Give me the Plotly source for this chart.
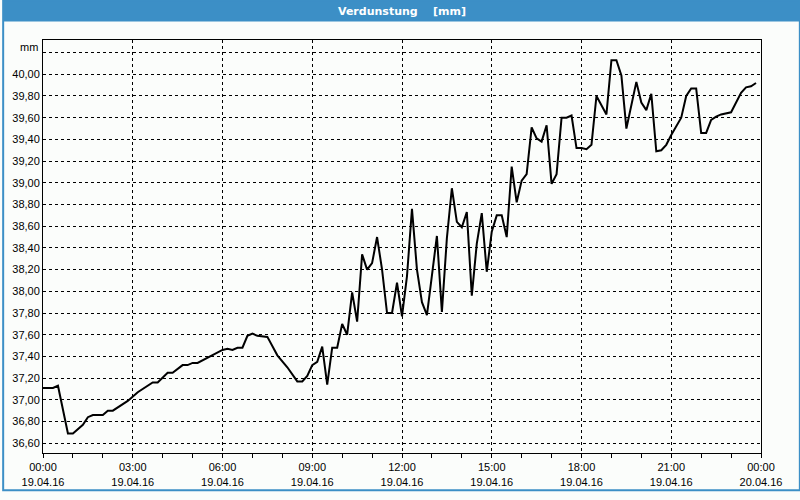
import plotly.graph_objects as go

times = ["00:00","00:20","00:30","00:50","01:00","01:20","01:30","01:40","02:00","02:10",
         "02:20","02:50","03:10","03:20","03:40","03:50","04:10","04:20","04:40","04:50",
         "05:00","05:10","05:30","05:40","06:00","06:10","06:20","06:30","06:40","06:50",
         "07:00","07:10","07:30","07:50","08:10","08:30","08:40","08:50","09:00","09:10",
         "09:20","09:30","09:40","09:50","10:00","10:10","10:20","10:30","10:40","10:50",
         "11:00","11:10","11:20","11:30","11:40","11:50","12:00","12:10","12:20","12:30",
         "12:40","12:50","13:10","13:20","13:30","13:40","13:50","14:00","14:10","14:20",
         "14:30","14:40","14:50","15:00","15:10","15:20","15:30","15:40","15:50","16:00",
         "16:10","16:20","16:30","16:40","16:50","17:00","17:10","17:20","17:30","17:40",
         "17:50","18:00","18:10","18:20","18:30","18:50","19:00","19:10","19:20","19:30",
         "19:50","20:00","20:10","20:20","20:30","20:40","20:50","21:00","21:20","21:30",
         "21:40","21:50","22:00","22:10","22:20","22:30","22:40","23:00","23:20","23:30",
         "23:40","23:50"]
values = [37.11,37.11,37.13,36.69,36.69,36.77,36.84,36.86,36.86,36.90,
          36.90,36.99,37.07,37.10,37.16,37.16,37.25,37.25,37.32,37.32,
          37.34,37.34,37.39,37.41,37.46,37.47,37.46,37.48,37.48,37.59,
          37.61,37.59,37.58,37.41,37.30,37.17,37.17,37.22,37.32,37.35,
          37.49,37.14,37.48,37.48,37.70,37.60,37.99,37.72,38.34,38.20,
          38.26,38.50,38.20,37.80,37.80,38.08,37.77,38.14,38.76,38.20,
          37.90,37.78,38.51,37.81,38.49,38.95,38.64,38.59,38.73,37.96,
          38.44,38.72,38.18,38.55,38.70,38.70,38.50,39.15,38.82,39.02,
          39.08,39.51,39.41,39.38,39.53,38.99,39.08,39.60,39.60,39.62,
          39.32,39.32,39.31,39.35,39.80,39.63,40.13,40.13,39.99,39.50,
          39.93,39.74,39.67,39.82,39.29,39.30,39.35,39.44,39.60,39.80,
          39.87,39.87,39.46,39.46,39.58,39.61,39.63,39.65,39.83,39.88,
          39.89,39.92]

x_tick_labels = ["00:00<br>19.04.16","03:00<br>19.04.16","06:00<br>19.04.16","09:00<br>19.04.16",
                 "12:00<br>19.04.16","15:00<br>19.04.16","18:00<br>19.04.16","21:00<br>19.04.16",
                 "00:00<br>20.04.16"]
x_tick_vals = ["2016-04-19 00:00","2016-04-19 03:00","2016-04-19 06:00","2016-04-19 09:00",
               "2016-04-19 12:00","2016-04-19 15:00","2016-04-19 18:00","2016-04-19 21:00",
               "2016-04-20 00:00"]
y_tick_vals = [36.6,36.8,37.0,37.2,37.4,37.6,37.8,38.0,38.2,38.4,38.6,38.8,39.0,39.2,39.4,39.6,39.8,40.0,40.2]
y_tick_labels = [f"{v:.2f}".replace(".", ",") for v in y_tick_vals[:-1]] + [""]
unit_label = "mm"
title_text = "Verdunstung    [mm]"

x = ["2016-04-19 " + t for t in times]

fig = go.Figure()
fig.add_trace(go.Scatter(x=x, y=values, mode="lines",
                         line=dict(color="black", width=2), showlegend=False))

W, H = 800, 500
ml, mr, mt, mb = 40, 39, 40, 38
pw, ph = W - ml - mr, H - mt - mb
bg = "#fbfdfb"
blue = "#3c8fc6"

fig.update_layout(
    width=W, height=H, autosize=False,
    margin=dict(l=ml, r=mr, t=mt, b=mb),
    paper_bgcolor=bg, plot_bgcolor=bg,
    font=dict(family="Liberation Sans, Arial, sans-serif", size=11, color="black"),
    shapes=[
        dict(type="rect", xref="paper", yref="paper",
             x0=-ml/pw, x1=(pw+mr)/pw, y0=1+(mt-21)/ph, y1=1+mt/ph,
             fillcolor=blue, line=dict(width=0), layer="above"),
        dict(type="rect", xref="paper", yref="paper",
             x0=-ml/pw, x1=(pw+mr)/pw, y0=-mb/ph, y1=1+mt/ph,
             fillcolor="rgba(0,0,0,0)", line=dict(color=blue, width=2), layer="above"),
    ],
    annotations=[
        dict(text="<b>" + title_text + "</b>", xref="paper", yref="paper",
             x=(400-ml)/pw, y=1+(mt-10.5)/ph, xanchor="center", yanchor="middle",
             showarrow=False, font=dict(color="white", size=11,
                                        family="DejaVu Sans, sans-serif")),
        dict(text=unit_label, xref="paper", yref="y", x=0, y=y_tick_vals[-1],
             xanchor="right", yanchor="middle", xshift=-3, yshift=6,
             showarrow=False, font=dict(color="black", size=11)),
    ],
)

fig.update_xaxes(
    type="date",
    range=["2016-04-19 00:00", "2016-04-20 00:00"],
    tickmode="array", tickvals=x_tick_vals, ticktext=x_tick_labels,
    showgrid=True, gridcolor="black", gridwidth=1, griddash="3px,3px",
    showline=True, linecolor="black", linewidth=1, mirror=True,
    ticks="outside", ticklen=4, tickcolor="black", tickwidth=1,
    minor=dict(dtick=3600000, ticks="outside", ticklen=4, tickcolor="black", showgrid=False),
    zeroline=False, fixedrange=True,
)
fig.update_yaxes(
    range=[36.51, 40.316],
    tickmode="array", tickvals=y_tick_vals, ticktext=y_tick_labels,
    showgrid=True, gridcolor="black", gridwidth=1, griddash="3px,3px",
    showline=True, linecolor="black", linewidth=1, mirror=True,
    ticks="", zeroline=False, fixedrange=True,
)

fig.write_html("out.html", config={"responsive": False})
